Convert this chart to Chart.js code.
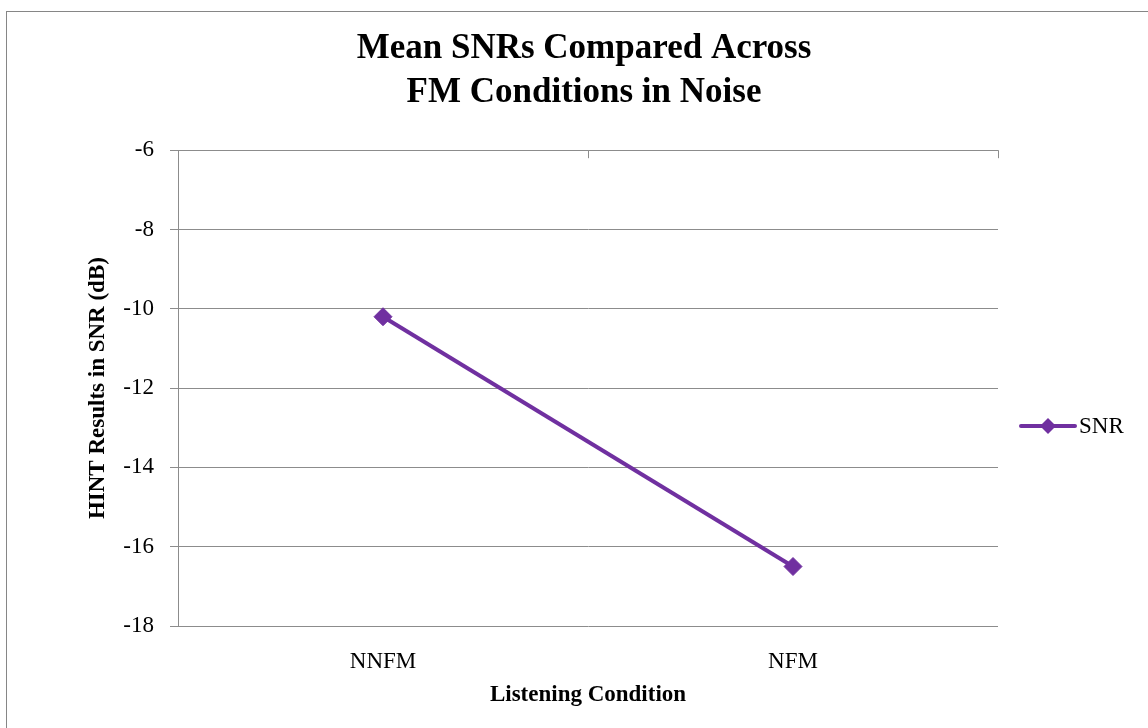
<!DOCTYPE html>
<html>
<head>
<meta charset="utf-8">
<script src="https://cdn.jsdelivr.net/npm/chart.js@4"></script>
<style>
  body { margin: 0; background: #fff; }
  #wrap { width: 1148px; height: 728px; position: relative; }
</style>
</head>
<body>
<div id="wrap"><canvas id="chart"></canvas></div>
<script>
// data
const categories = ['NNFM', 'NFM'];
const snrValues = [-10.2, -16.5];
const seriesName = 'SNR';
const yMin = -18;
const yMax = -6;
const yStep = 2;

const purple = '#7030A0';
const gridGray = '#8c8c8c';
const serif = '"Liberation Serif", "Times New Roman", serif';

// white page, outer frame, top tick marks, legend
const extras = {
    id: 'extras',
    beforeDraw(chart) {
        const ctx = chart.ctx;
        ctx.save();
        ctx.fillStyle = '#fff';
        ctx.fillRect(0, 0, chart.width, chart.height);
        ctx.strokeStyle = '#868686';
        ctx.lineWidth = 1;
        ctx.strokeRect(6.5, 11.5, chart.width + 50, chart.height + 50);
        ctx.restore();
    },
    afterDraw(chart) {
        const ctx = chart.ctx;
        const area = chart.chartArea;
        const x = chart.scales.x;
        ctx.save();
        // little category ticks hanging from the top gridline
        ctx.strokeStyle = gridGray;
        ctx.lineWidth = 1;
        const half = (x.getPixelForValue(1) - x.getPixelForValue(0)) / 2;
        for (let i = 0; i < categories.length; i++) {
            const px = Math.round(x.getPixelForValue(i) + half) + 0.5;
            ctx.beginPath();
            ctx.moveTo(px, area.top);
            ctx.lineTo(px, area.top + 8);
            ctx.stroke();
        }
        // legend: line + diamond + name
        const ly = Math.round((area.top + area.bottom) / 2 + 38);
        const lx = area.right + 23;
        ctx.strokeStyle = purple;
        ctx.lineWidth = 4;
        ctx.lineCap = 'round';
        ctx.beginPath();
        ctx.moveTo(lx, ly);
        ctx.lineTo(lx + 54, ly);
        ctx.stroke();
        ctx.fillStyle = purple;
        ctx.beginPath();
        ctx.moveTo(lx + 27, ly - 8);
        ctx.lineTo(lx + 35, ly);
        ctx.lineTo(lx + 27, ly + 8);
        ctx.lineTo(lx + 19, ly);
        ctx.closePath();
        ctx.fill();
        ctx.fillStyle = '#000';
        ctx.font = '23px ' + serif;
        ctx.textBaseline = 'middle';
        ctx.fillText(chart.data.datasets[0].label, lx + 58, ly + 1);
        ctx.restore();
    }
};

new Chart(document.getElementById('chart'), {
    type: 'line',
    data: {
        labels: categories,
        datasets: [{
            label: seriesName,
            data: snrValues,
            borderColor: purple,
            backgroundColor: purple,
            borderWidth: 4,
            pointStyle: 'rectRot',
            pointRadius: 9,
            pointBorderWidth: 1,
            pointBorderColor: purple,
            pointBackgroundColor: purple,
            tension: 0
        }]
    },
    options: {
        responsive: true,
        maintainAspectRatio: false,
        animation: false,
        layout: { padding: { left: 20, right: 0, top: 0, bottom: 0 } },
        plugins: {
            legend: { display: false },
            tooltip: { enabled: false },
            title: {
                display: true,
                text: ['Mean SNRs Compared Across', 'FM Conditions in Noise'],
                color: '#000',
                font: { family: serif, size: 35, weight: 'bold', lineHeight: 1.26 },
                padding: { top: 27, bottom: 35 }
            }
        },
        scales: {
            x: {
                offset: true,
                grid: { display: false },
                border: { display: false },
                ticks: { color: '#000', font: { family: serif, size: 23 }, padding: 14 },
                title: {
                    display: true,
                    text: 'Listening Condition',
                    color: '#000',
                    font: { family: serif, size: 23, weight: 'bold' },
                    padding: { top: 0, bottom: 19 }
                },
                afterFit(scale) { scale.height = 102; }
            },
            y: {
                min: yMin,
                max: yMax,
                grid: { color: gridGray, lineWidth: 1, tickLength: 8 },
                border: { color: gridGray, width: 1 },
                ticks: { stepSize: yStep, color: '#000', font: { family: serif, size: 23 }, padding: 16 },
                title: {
                    display: true,
                    text: 'HINT Results in SNR (dB)',
                    color: '#000',
                    font: { family: serif, size: 23, weight: 'bold' },
                    padding: { top: 64, bottom: 0 }
                },
                afterFit(scale) { scale.width = 158; }
            },
            pad: {
                position: 'right',
                type: 'linear',
                grid: { display: false },
                border: { display: false },
                ticks: { display: false },
                afterFit(scale) { scale.width = 150; }
            }
        }
    },
    plugins: [extras]
});
</script>
</body>
</html>
